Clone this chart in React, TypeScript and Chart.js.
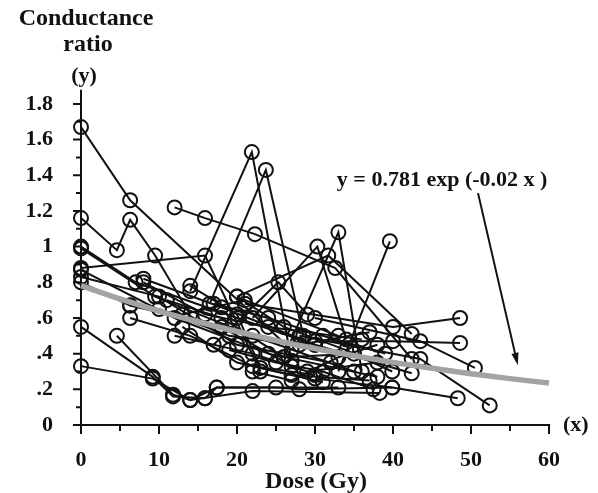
import React, { useEffect, useRef } from "react";
import { Chart, registerables } from "chart.js";

Chart.register(...registerables);

// Tick values and labels
const xTickValues = [0, 10, 20, 30, 40, 50, 60];
const xTickMarks = [0, 5, 10, 15, 20, 25, 30, 35, 40, 45, 50, 55, 60];
const yTickValues = [0, 0.2, 0.4, 0.6, 0.8, 1.0, 1.2, 1.4, 1.6, 1.8];
const yTickLabels = ["0", ".2", ".4", ".6", ".8", "1", "1.2", "1.4", "1.6", "1.8"];
const yTickMarks = [0, 0.1, 0.2, 0.3, 0.4, 0.5, 0.6, 0.7, 0.8, 0.9, 1.0, 1.1, 1.2, 1.3, 1.4, 1.5, 1.6, 1.7, 1.8];

// Fitted curve y = 0.781 exp(-0.02 x), read at 5 Gy steps
const fitDose = [0, 5, 10, 15, 20, 25, 30, 35, 40, 45, 50, 55, 60];
const fitRatio = [0.781, 0.707, 0.639, 0.579, 0.524, 0.474, 0.429, 0.388, 0.351, 0.318, 0.287, 0.26, 0.235];

// Per-patient measurements (dose in Gy, conductance ratio)
const patientDose: number[][] = [
  [0, 6.3, 27],
  [0, 4.6, 6.3, 9.5, 14],
  [12, 15.9, 22.3, 32.6, 42.4],
  [14, 21.9, 27],
  [16.5, 23.7, 28.5],
  [17, 25.3, 29],
  [22, 30.3, 34],
  [26, 33, 36],
  [33, 39.6],
  [20, 31.7, 42.4],
  [21, 40, 48.6],
  [30, 40, 48.6],
  [8, 18, 30, 42.4],
  [30, 43.5, 50.5],
  [28, 43.5, 52.4],
  [30, 39.9, 48.3],
  [0, 9.2, 14, 17.4, 33],
  [0, 9.2, 11.8, 15.9],
  [4.6, 11.8, 14, 22, 38.3],
  [15.9, 17.4, 25, 28, 39.9],
  [0, 7, 20, 30],
  [0, 9.5, 22, 35],
  [0, 12, 24, 38],
  [0, 10, 20, 32],
  [0, 6.3, 18, 27],
  [6.3, 14, 22, 30],
  [6.3, 13, 21, 33],
  [8, 15.9, 24, 36],
  [11, 18, 26, 35],
  [13, 20, 27, 37],
  [10, 19, 28, 37],
  [14, 20, 23, 31],
  [17, 24, 31, 39],
  [12, 22, 29, 38],
  [20, 26, 34, 39.9],
  [0, 15.9, 23],
  [22, 27, 33, 38],
  [19, 25, 31, 37.5],
];
const patientRatio: number[][] = [
  [1.67, 1.26, 0.42],
  [1.16, 0.98, 1.15, 0.95, 0.62],
  [1.22, 1.16, 1.07, 0.88, 0.37],
  [0.75, 1.53, 0.36],
  [0.68, 1.43, 0.5],
  [0.45, 0.8, 0.62],
  [0.6, 1.0, 0.48],
  [0.38, 1.08, 0.3],
  [0.3, 1.03],
  [0.72, 0.95, 0.51],
  [0.68, 0.55, 0.6],
  [0.47, 0.47, 0.46],
  [0.82, 0.66, 0.45, 0.29],
  [0.6, 0.47, 0.32],
  [0.5, 0.37, 0.11],
  [0.26, 0.21, 0.15],
  [0.33, 0.26, 0.14, 0.21, 0.21],
  [0.55, 0.27, 0.16, 0.15],
  [0.5, 0.17, 0.14, 0.19, 0.18],
  [0.15, 0.21, 0.21, 0.2, 0.21],
  [1.0, 0.8, 0.6, 0.45],
  [0.99, 0.72, 0.5, 0.3],
  [0.87, 0.6, 0.4, 0.27],
  [0.83, 0.72, 0.45, 0.35],
  [0.8, 0.67, 0.55, 0.33],
  [0.6, 0.5, 0.33, 0.28],
  [0.67, 0.62, 0.7, 0.5],
  [0.8, 0.62, 0.55, 0.48],
  [0.7, 0.6, 0.38, 0.4],
  [0.55, 0.35, 0.28, 0.25],
  [0.65, 0.5, 0.45, 0.52],
  [0.78, 0.62, 0.32, 0.24],
  [0.68, 0.6, 0.5, 0.4],
  [0.5, 0.4, 0.3, 0.35],
  [0.72, 0.55, 0.42, 0.3],
  [0.88, 0.95, 0.3],
  [0.3, 0.25, 0.38, 0.45],
  [0.42, 0.35, 0.3, 0.2],
];

// Annotation anchors (data coordinates)
const equationText = "y = 0.781 exp (-0.02 x )";
const equationAt = [32.8, 1.37];
const arrowFrom = [50.9, 1.3];
const arrowTo = [56.0, 0.335];

const FONT = "'Liberation Serif', 'DejaVu Serif', serif";
const INK = "#111";

const decorPlugin = {
  id: "decor",
  beforeDatasetsDraw(chart: any) {
    const { ctx } = chart;
    const xs = chart.scales.x;
    const ys = chart.scales.y;
    const x0 = xs.getPixelForValue(0);
    const y0 = ys.getPixelForValue(0);
    ctx.save();
    ctx.strokeStyle = INK;
    ctx.lineWidth = 2;
    ctx.lineCap = "butt";
    // axes
    ctx.beginPath();
    ctx.moveTo(xs.getPixelForValue(-0.7), y0);
    ctx.lineTo(xs.getPixelForValue(60.15), y0);
    ctx.moveTo(x0, ys.getPixelForValue(1.88));
    ctx.lineTo(x0, y0);
    ctx.stroke();
    // x tick marks
    ctx.beginPath();
    xTickMarks.forEach((v) => {
      const px = xs.getPixelForValue(v);
      const major = xTickValues.includes(v);
      ctx.moveTo(px, y0);
      ctx.lineTo(px, y0 + (major ? 9 : 6));
    });
    // y tick marks
    yTickMarks.forEach((v, i) => {
      const py = ys.getPixelForValue(v);
      const major = i % 2 === 0;
      ctx.moveTo(x0, py);
      ctx.lineTo(x0 - (major ? 8 : 5), py);
    });
    ctx.stroke();
    ctx.restore();
  },
  afterDraw(chart: any) {
    const { ctx } = chart;
    const xs = chart.scales.x;
    const ys = chart.scales.y;
    const y0 = ys.getPixelForValue(0);
    ctx.save();
    ctx.fillStyle = INK;
    ctx.textBaseline = "middle";
    ctx.textAlign = "center";
    ctx.font = `bold 24px ${FONT}`;
    ctx.fillText("Conductance", 86, 19);
    ctx.fillText("ratio", 88, 45);
    ctx.font = `bold 22px ${FONT}`;
    ctx.fillText("(y)", 84, 76);
    ctx.textAlign = "left";
    ctx.fillText("(x)", 563, y0);
    ctx.textAlign = "center";
    ctx.font = `bold 24px ${FONT}`;
    ctx.fillText("Dose (Gy)", 316, 482);
    // equation
    ctx.font = `bold 22px ${FONT}`;
    ctx.textAlign = "left";
    ctx.fillText(equationText, xs.getPixelForValue(equationAt[0]), ys.getPixelForValue(equationAt[1]));
    // arrow
    const ax = xs.getPixelForValue(arrowFrom[0]);
    const ay = ys.getPixelForValue(arrowFrom[1]);
    const bx = xs.getPixelForValue(arrowTo[0]);
    const by = ys.getPixelForValue(arrowTo[1]);
    const ang = Math.atan2(by - ay, bx - ax);
    const hl = 13;
    ctx.strokeStyle = INK;
    ctx.lineWidth = 2;
    ctx.beginPath();
    ctx.moveTo(ax, ay);
    ctx.lineTo(bx - Math.cos(ang) * hl * 0.8, by - Math.sin(ang) * hl * 0.8);
    ctx.stroke();
    ctx.beginPath();
    ctx.moveTo(bx, by);
    ctx.lineTo(bx - hl * Math.cos(ang - 0.28), by - hl * Math.sin(ang - 0.28));
    ctx.lineTo(bx - hl * Math.cos(ang + 0.28), by - hl * Math.sin(ang + 0.28));
    ctx.closePath();
    ctx.fill();
    ctx.restore();
  },
};

export default function App() {
  const ref = useRef<HTMLCanvasElement | null>(null);
  useEffect(() => {
    document.body.style.margin = "0";
    document.body.style.background = "#fff";
    const canvas = ref.current;
    if (!canvas) return;
    const datasets: any[] = [
      {
        label: "fit",
        data: fitDose.map((x, i) => ({ x, y: fitRatio[i] })),
        showLine: true,
        borderColor: "#a3a3a3",
        borderWidth: 5.5,
        pointRadius: 0,
        cubicInterpolationMode: "monotone",
        order: 0,
        clip: false,
      },
      ...patientDose.map((doses, i) => ({
        label: "patient " + (i + 1),
        data: doses.map((x, j) => ({ x, y: patientRatio[i][j] })),
        showLine: true,
        borderColor: INK,
        borderWidth: 2,
        pointRadius: 7,
        pointBorderWidth: 2,
        pointStyle: "circle",
        pointBackgroundColor: "rgba(255,255,255,0)",
        pointBorderColor: INK,
        order: 1,
        clip: false,
      })),
    ];
    const chart = new Chart(canvas, {
      type: "scatter",
      data: { datasets },
      plugins: [decorPlugin],
      options: {
        animation: false,
        responsive: false,
        maintainAspectRatio: false,
        layout: { padding: { left: 0, right: 49, top: 95, bottom: 0 } },
        plugins: { legend: { display: false }, tooltip: { enabled: false } },
        scales: {
          x: {
            type: "linear",
            min: 0,
            max: 60,
            afterBuildTicks: (s: any) => {
              s.ticks = xTickValues.map((v) => ({ value: v }));
            },
            afterFit: (s: any) => {
              s.height = 68;
            },
            grid: { display: false },
            border: { display: false },
            ticks: {
              autoSkip: false,
              maxRotation: 0,
              padding: 14,
              color: INK,
              font: { family: FONT, size: 22, weight: "bold" },
              callback: (v: any) => String(v),
            },
          },
          y: {
            type: "linear",
            min: 0,
            max: 1.85,
            afterBuildTicks: (s: any) => {
              s.ticks = yTickValues.map((v) => ({ value: v }));
            },
            afterFit: (s: any) => {
              s.width = 81;
            },
            grid: { display: false },
            border: { display: false },
            ticks: {
              autoSkip: false,
              padding: 20,
              color: INK,
              font: { family: FONT, size: 22, weight: "bold" },
              callback: (v: any) => {
                const idx = yTickValues.findIndex((t) => Math.abs(t - Number(v)) < 1e-6);
                return idx >= 0 ? yTickLabels[idx] : "";
              },
            },
          },
        },
      } as any,
    });
    return () => chart.destroy();
  }, []);
  return (
    <div style={{ position: "fixed", left: 0, top: 0, width: 598, height: 493, background: "#fff" }}>
      <canvas ref={ref} width={598} height={493} style={{ display: "block", width: 598, height: 493 }} />
    </div>
  );
}
